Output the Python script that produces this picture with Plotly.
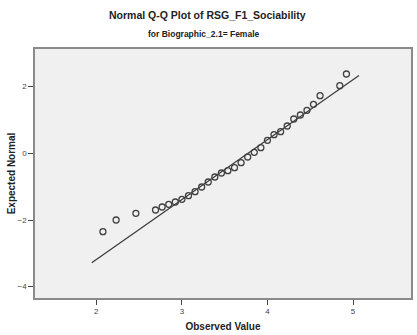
import plotly.graph_objects as go

# Observed values (distinct scores) and their expected normal quantiles
observed = [2.077, 2.231, 2.462, 2.692, 2.769, 2.846, 2.923, 3.000, 3.077,
            3.154, 3.231, 3.308, 3.385, 3.462, 3.538, 3.615, 3.692, 3.769,
            3.846, 3.923, 4.000, 4.077, 4.154, 4.231, 4.308, 4.385, 4.462,
            4.538, 4.615, 4.846, 4.923]
expected = [-2.35, -2.00, -1.80, -1.70, -1.61, -1.53, -1.46, -1.38, -1.27,
            -1.15, -1.01, -0.86, -0.71, -0.59, -0.52, -0.43, -0.28, -0.11,
            0.03, 0.17, 0.39, 0.56, 0.65, 0.82, 1.03, 1.15, 1.29,
            1.47, 1.73, 2.03, 2.38]

# Reference normal line: mean and standard deviation of the scores
ref_mean = 3.770
ref_sd = 0.556
line_x = [1.946, 5.070]
line_y = [(v - ref_mean) / ref_sd for v in line_x]

x_ticks = [2, 3, 4, 5]
y_ticks = [-4, -2, 0, 2]

fig = go.Figure()
fig.add_trace(go.Scatter(
    x=line_x, y=line_y, mode="lines",
    line=dict(color="#3a3a3a", width=1.2),
    hoverinfo="skip", showlegend=False,
))
fig.add_trace(go.Scatter(
    x=observed, y=expected, mode="markers",
    marker=dict(symbol="circle-open", size=6, color="#404040",
                line=dict(width=1.3, color="#404040")),
    showlegend=False,
))

fig.update_layout(
    width=417, height=335,
    margin=dict(l=35, r=4, t=49, b=37),
    paper_bgcolor="white",
    plot_bgcolor="#f0f0f0",
    font=dict(family="Liberation Sans, Arial, sans-serif", color="#222"),
    annotations=[
        dict(text="<b>Normal Q-Q Plot of RSG_F1_Sociability</b>",
             xref="paper", yref="paper", x=0.458, y=1.0, yshift=34,
             showarrow=False, xanchor="center", yanchor="middle",
             font=dict(size=10.5, color="#222")),
        dict(text="<b>for Biographic_2.1= Female</b>",
             xref="paper", yref="paper", x=0.45, y=1.0, yshift=15,
             showarrow=False, xanchor="center", yanchor="middle",
             font=dict(size=8.5, color="#222")),
    ],
)
fig.update_xaxes(
    range=[1.283, 5.678], tickvals=x_ticks, showgrid=False, zeroline=False,
    showline=True, linecolor="#8a8a8a", linewidth=1.5, mirror=True,
    ticks="outside", ticklen=5, tickcolor="#444", tickwidth=1,
    tickfont=dict(size=8, color="#444"),
    title=dict(text="<b>Observed Value</b>", font=dict(size=10, color="#222"),
               standoff=8),
)
fig.update_yaxes(
    range=[-4.34, 3.13], tickvals=y_ticks, showgrid=False, zeroline=False,
    showline=True, linecolor="#8a8a8a", linewidth=1.5, mirror=True,
    ticks="outside", ticklen=5, tickcolor="#444", tickwidth=1,
    tickfont=dict(size=8, color="#444"),
    title=dict(text="<b>Expected Normal</b>", font=dict(size=10, color="#222"),
               standoff=0),
)

fig.write_html("out.html")
